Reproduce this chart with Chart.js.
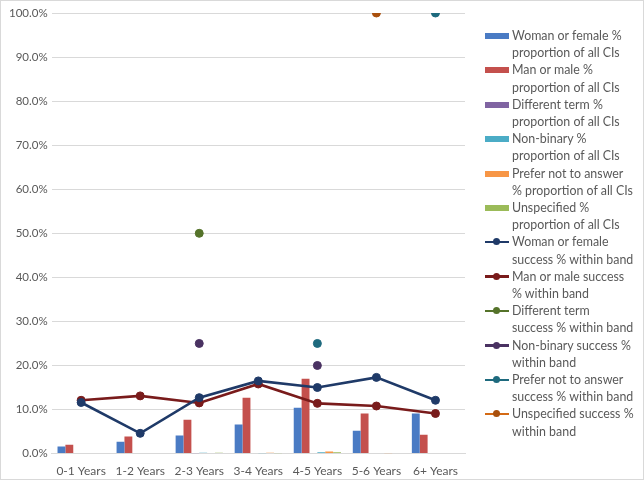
<!DOCTYPE html>
<html lang="en">
<head>
<meta charset="UTF-8">
<title>CI proportion and success % by years band</title>
<script src="https://cdn.jsdelivr.net/npm/chart.js"></script>
<style>
    body { margin: 0; background: #fff; font-family: Lato, sans-serif; }
    .wrap { position: relative; width: 644px; height: 480px; }
    .frame { position: absolute; left: 0; top: 0; width: 642px; height: 478px; border: 1px solid #d9d9d9; pointer-events: none; }
    #legend { position: absolute; left: 485px; top: 27px; width: 158px; font-size: 12.4px; line-height: 17.2px; color: #595959; }
    #legend .item { display: flex; align-items: flex-start; }
    #legend .sym { flex: 0 0 24px; height: 17px; position: relative; margin-right: 3px; }
    #legend .box { position: absolute; left: 0; right: 0; top: 6px; height: 6px; }
    #legend .ln { position: absolute; left: 0; right: 0; top: 7.5px; height: 2.5px; }
    #legend .dot { position: absolute; left: 8px; top: 5px; width: 7px; height: 7px; border-radius: 50%; }
    #legend .txt { white-space: nowrap; }
</style>
</head>
<body>
<div class="wrap">
    <canvas id="chart" width="644" height="480"></canvas>
    <div id="legend"></div>
    <div class="frame"></div>
</div>
<script>
// categories
const bands = ['0-1 Years', '1-2 Years', '2-3 Years', '3-4 Years', '4-5 Years', '5-6 Years', '6+ Years'];

// % proportion of all CIs (bars)
const womanShare      = [1.6, 2.7, 4.1, 6.6, 10.4, 5.2, 9.1];
const manShare        = [2.0, 3.9, 7.7, 12.7, 17.0, 9.1, 4.3];
const diffTermShare   = [0, 0, 0.1, 0, 0, 0, 0];
const nonBinaryShare  = [0, 0, 0.2, 0.1, 0.3, 0, 0];
const preferNotShare  = [0, 0, 0, 0.2, 0.5, 0.1, 0];
const unspecShare     = [0, 0, 0.2, 0.1, 0.3, 0, 0];

// success % within band (lines)
const womanSuccess     = [11.6, 4.6, 12.7, 16.5, 15.0, 17.3, 12.1];
const manSuccess       = [12.1, 13.1, 11.5, 15.8, 11.4, 10.8, 9.1];
const diffTermSuccess  = [null, null, 50, null, null, null, null];
const nonBinarySuccess = [null, null, 25, null, 20, null, null];
const preferNotSuccess = [null, null, null, null, 25, null, 100];
const unspecSuccess    = [null, null, null, null, null, 100, null];

// y ticks
const yMin = 0, yMax = 100, yStep = 10;

// legend labels, broken where the original wraps them
const legendLines = [
    ['Woman or female %', 'proportion of all CIs'],
    ['Man or male %', 'proportion of all CIs'],
    ['Different term %', 'proportion of all CIs'],
    ['Non-binary %', 'proportion of all CIs'],
    ['Prefer not to answer', '% proportion of all CIs'],
    ['Unspecified  %', 'proportion of all CIs'],
    ['Woman or female', 'success % within band'],
    ['Man or male success', '% within band'],
    ['Different term', 'success % within band'],
    ['Non-binary success %', 'within band'],
    ['Prefer not to answer', 'success % within band'],
    ['Unspecified success %', 'within band']
];

function bar(i, data, color) {
    return { type: 'bar', label: legendLines[i].join(' '), data: data, backgroundColor: color,
             borderWidth: 0, order: 2, barPercentage: 1.0, categoryPercentage: 0.8 };
}
function line(i, data, color, dotColor) {
    return { type: 'line', label: legendLines[i].join(' '), data: data, borderColor: color, borderWidth: 2.6,
             pointRadius: 4, pointBackgroundColor: dotColor || color, pointBorderColor: dotColor || color,
             pointBorderWidth: 1, fill: false, tension: 0, spanGaps: false, order: 1 };
}

const datasets = [
    bar(0, womanShare, '#4a7bc4'),
    bar(1, manShare, '#c4504d'),
    bar(2, diffTermShare, '#8064a2'),
    bar(3, nonBinaryShare, '#4bacc6'),
    bar(4, preferNotShare, '#f79646'),
    bar(5, unspecShare, '#9bbb59'),
    line(6, womanSuccess, '#1f3a68'),
    line(7, manSuccess, '#791b1b'),
    line(8, diffTermSuccess, '#55732a'),
    line(9, nonBinarySuccess, '#4a3262'),
    line(10, preferNotSuccess, '#1e6a7e'),
    line(11, unspecSuccess, '#d46a14', '#a9500e')
];

const chart = new Chart(document.getElementById('chart'), {
    data: { labels: bands, datasets: datasets },
    options: {
        responsive: false,
        animation: false,
        layout: { padding: { left: 5, right: 179, top: 13, bottom: 0 } },
        plugins: { legend: { display: false }, tooltip: { enabled: false } },
        scales: {
            x: {
                offset: true,
                grid: { display: false },
                border: { color: '#d9d9d9' },
                ticks: { color: '#595959', font: { family: 'Lato', size: 12 }, padding: 2 }
            },
            y: {
                min: yMin, max: yMax,
                grid: { color: '#d9d9d9', drawTicks: false },
                border: { display: false },
                ticks: { stepSize: yStep, color: '#595959', padding: 4,
                         font: { family: 'Lato', size: 11.5 },
                         callback: v => v.toFixed(1) + '%' }
            }
        }
    }
});

// HTML legend so the long labels wrap like the original
const legendEl = document.getElementById('legend');
datasets.forEach((ds, i) => {
    const item = document.createElement('div');
    item.className = 'item';
    const sym = document.createElement('div');
    sym.className = 'sym';
    if (ds.type === 'bar') {
        sym.innerHTML = '<div class="box" style="background:' + ds.backgroundColor + '"></div>';
    } else {
        sym.innerHTML = '<div class="ln" style="background:' + ds.borderColor + '"></div>' +
            '<div class="dot" style="background:' + ds.pointBackgroundColor + '"></div>';
    }
    const txt = document.createElement('div');
    txt.className = 'txt';
    legendLines[i].forEach((t, k) => {
        if (k) txt.appendChild(document.createElement('br'));
        txt.appendChild(document.createTextNode(t));
    });
    item.appendChild(sym);
    item.appendChild(txt);
    legendEl.appendChild(item);
});
</script>
</body>
</html>
